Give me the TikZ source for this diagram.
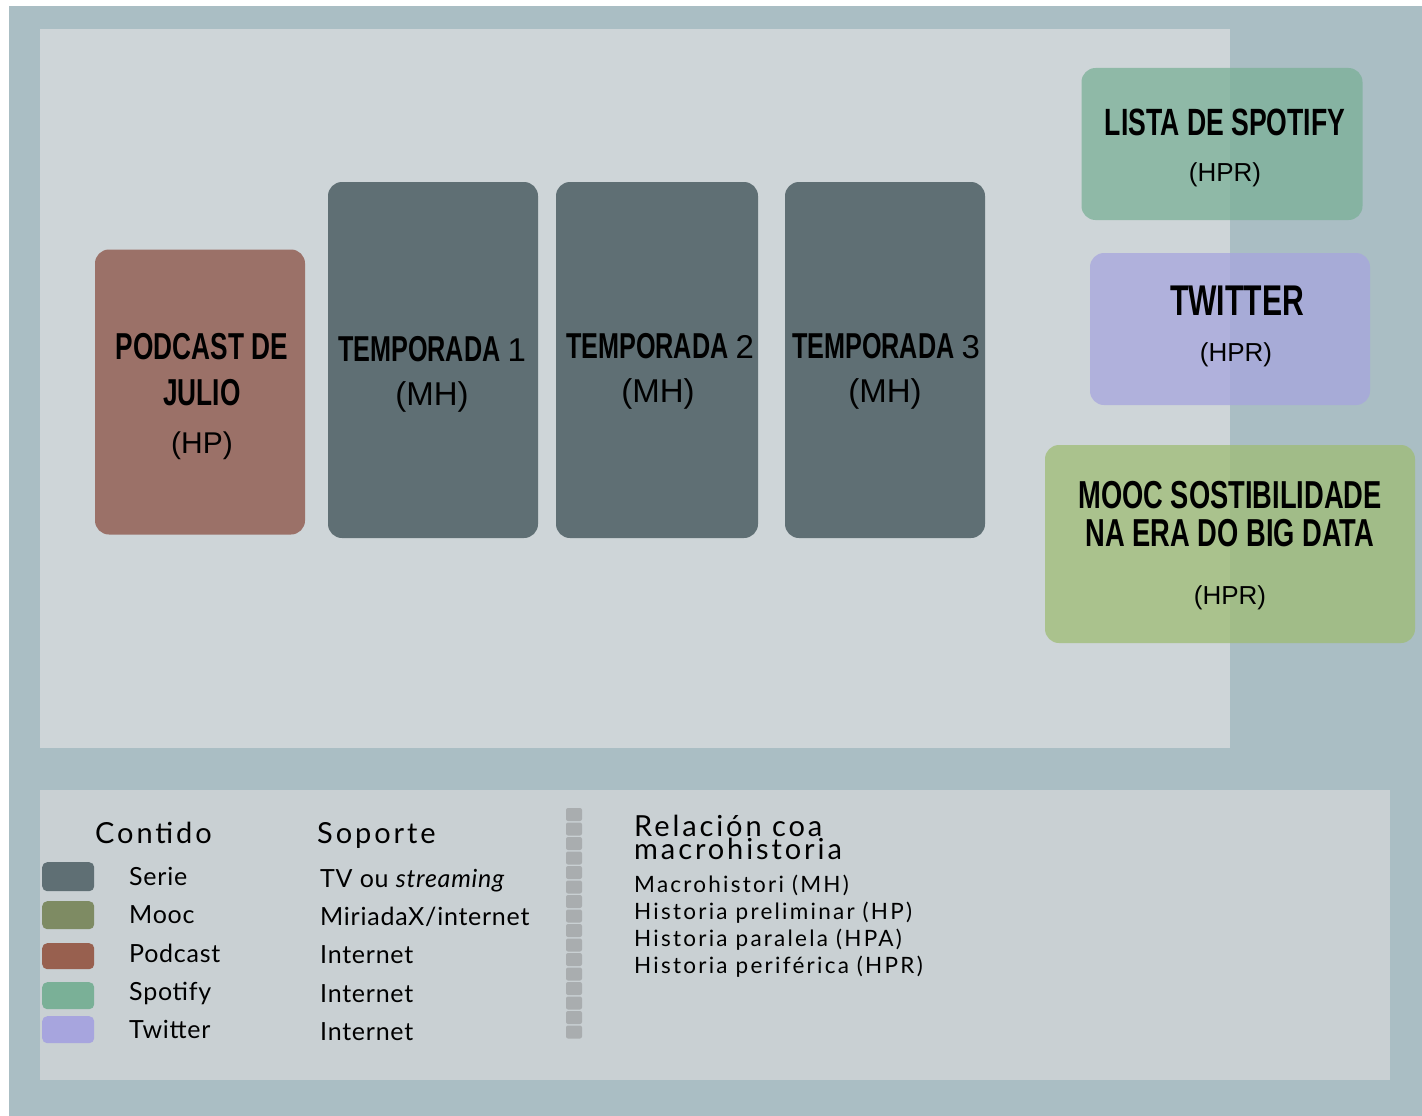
\documentclass[tikz,border=0pt]{standalone}
\usepackage{fontspec}
\setmainfont{Liberation Sans}
\newfontfamily\brushfont{Liberation Sans}[FakeStretch=0.70]
\newfontfamily\legendfont{Lato}[LetterSpace=10]
\newfontfamily\legitemfont{Lato}[LetterSpace=3]
\usetikzlibrary{positioning}

\definecolor{bgteal}{HTML}{AABEC4}
\definecolor{panel}{HTML}{CED5D8}
\definecolor{legpanel}{HTML}{C9D0D3}
\definecolor{serie}{HTML}{5F6F74}
\definecolor{podcast}{HTML}{9B7168}
\definecolor{podcastsw}{HTML}{98604F}
\definecolor{moocbox}{HTML}{9FBC75}
\definecolor{moocsw}{HTML}{7E8B63}
\definecolor{spotify}{HTML}{7AB097}
\definecolor{twitter}{HTML}{A7A5DE}
\definecolor{bardots}{HTML}{A9ADAF}

\begin{document}
\begin{tikzpicture}[x=1pt, y=-1pt]
    \tikzstyle{tile}=[rounded corners=14pt, inner sep=0pt]
    \tikzstyle{seetile}=[tile, fill opacity=0.75]
    \tikzstyle{brush}=[anchor=base, inner sep=0pt, font=\brushfont\bfseries\fontsize{36}{40}\selectfont]
    \tikzstyle{code}=[anchor=base, inner sep=0pt, font=\fontsize{33}{36}\selectfont]
    \tikzstyle{swatch}=[rounded corners=5pt, inner sep=0pt, minimum width=52pt]
    \tikzstyle{legtext}=[anchor=base west, inner sep=0pt, font=\legitemfont\fontsize{25}{30}\selectfont]
    \tikzstyle{leghead}=[anchor=base west, inner sep=0pt, font=\legendfont\fontsize{29}{34}\selectfont]
    \tikzstyle{mhtext}=[anchor=base west, inner sep=0pt, font=\legendfont\fontsize{22.5}{27}\selectfont]

    \useasboundingbox (0,0) rectangle (1422,1116);
    % backgrounds
    \fill[bgteal] (9,6) rectangle (1422,1116);
    \fill[panel] (40,29) rectangle (1230,748);
    \fill[legpanel] (40,790) rectangle (1390,1080);

    % content boxes
    \node[tile, fill=podcast, minimum width=210pt, minimum height=285pt] (podcast) at (200,392) {};
    \node[tile, fill=serie, minimum width=210pt, minimum height=356pt] (temp1) at (433,360) {};
    \node[tile, fill=serie, minimum width=202pt, minimum height=356pt] (temp2) at (657,360) {};
    \node[tile, fill=serie, minimum width=200pt, minimum height=356pt] (temp3) at (885,360) {};
    \node[seetile, fill=spotify, minimum width=281pt, minimum height=152pt] (spotify) at (1222,144) {};
    \node[seetile, fill=twitter, minimum width=280pt, minimum height=152pt] (twitter) at (1230,329) {};
    \node[seetile, fill=moocbox, minimum width=370pt, minimum height=198pt] (mooc) at (1230,544) {};

    % texts in the boxes
    \node[brush, font=\brushfont\bfseries\fontsize{37.5}{40}\selectfont] (podcastA) at (202,359) {PODCAST DE};
    \node[brush, font=\brushfont\bfseries\fontsize{37.5}{40}\selectfont] (podcastB) at (202,405) {JULIO};
    \node[code, font=\fontsize{30}{34}\selectfont] (podcastC) at (202,453) {(HP)};

    \node[brush] (temp1A) at (432,361) {TEMPORADA {\mdseries\rmfamily\fontsize{33}{36}\selectfont 1}};
    \node[code] (temp1B) at (432,405) {(MH)};
    \node[brush] (temp2A) at (660,358) {TEMPORADA {\mdseries\rmfamily\fontsize{33}{36}\selectfont 2}};
    \node[code] (temp2B) at (658,402) {(MH)};
    \node[brush] (temp3A) at (886,358) {TEMPORADA {\mdseries\rmfamily\fontsize{33}{36}\selectfont 3}};
    \node[code] (temp3B) at (885,402) {(MH)};

    \node[brush, font=\brushfont\bfseries\fontsize{38}{40}\selectfont] (spotifyA) at (1225,135) {LISTA DE SPOTIFY};
    \node[code, font=\fontsize{26}{30}\selectfont] (spotifyB) at (1225,181) {(HPR)};
    \node[brush, font=\brushfont\bfseries\fontsize{43}{44}\selectfont] (twitterA) at (1237,315) {TWITTER};
    \node[code, font=\fontsize{26}{30}\selectfont] (twitterB) at (1236,361) {(HPR)};
    \node[brush, font=\brushfont\bfseries\fontsize{39}{40}\selectfont] (moocA) at (1230,508) {MOOC SOSTIBILIDADE};
    \node[brush, font=\brushfont\bfseries\fontsize{39}{40}\selectfont] (moocB) at (1230,546) {NA ERA DO BIG DATA};
    \node[code, font=\fontsize{26}{30}\selectfont] (moocC) at (1230,604) {(HPR)};

    % legend: contido
    \node[leghead] (contido) at (95,843) {Contido};
    \node[swatch, fill=serie, minimum height=29pt, anchor=north west] (swSerie) at (42,862) {};
    \node[swatch, fill=moocsw, minimum height=28pt, anchor=north west] (swMooc) at (42,901) {};
    \node[swatch, fill=podcastsw, minimum height=26pt, anchor=north west] (swPodcast) at (42,943) {};
    \node[swatch, fill=spotify, minimum height=27pt, anchor=north west] (swSpotify) at (42,982) {};
    \node[swatch, fill=twitter, minimum height=27pt, anchor=north west] (swTwitter) at (42,1016) {};
    \node[legtext] (lbSerie) at (129,885) {Serie};
    \node[legtext] (lbMooc) at (129,923) {Mooc};
    \node[legtext] (lbPodcast) at (129,962) {Podcast};
    \node[legtext] (lbSpotify) at (129,1000) {Spotify};
    \node[legtext] (lbTwitter) at (129,1038) {Twitter};

    % legend: soporte
    \node[leghead] (soporte) at (317,843) {Soporte};
    \node[legtext] (spSerie) at (320,887) {TV ou \textit{streaming}};
    \node[legtext] (spMooc) at (320,925) {MiriadaX/internet};
    \node[legtext] (spPodcast) at (320,963) {Internet};
    \node[legtext] (spSpotify) at (320,1002) {Internet};
    \node[legtext] (spTwitter) at (320,1040) {Internet};

    % separator
    \foreach \k in {0,...,15}
        \fill[bardots, rounded corners=2pt] (566,808+\k*14.5) rectangle +(16,13);

    % legend: relacion coa macrohistoria
    \node[leghead, align=left, font=\legendfont\fontsize{29}{23}\selectfont] (relacion) at (634,859) {Relación coa\\macrohistoria};
    \node[mhtext] (mhMH) at (634,892) {Macrohistori (MH)};
    \node[mhtext] (mhHP) at (634,919) {Historia preliminar (HP)};
    \node[mhtext] (mhHPA) at (634,946) {Historia paralela (HPA)};
    \node[mhtext] (mhHPR) at (634,973) {Historia periférica (HPR)};
\end{tikzpicture}
\end{document}
